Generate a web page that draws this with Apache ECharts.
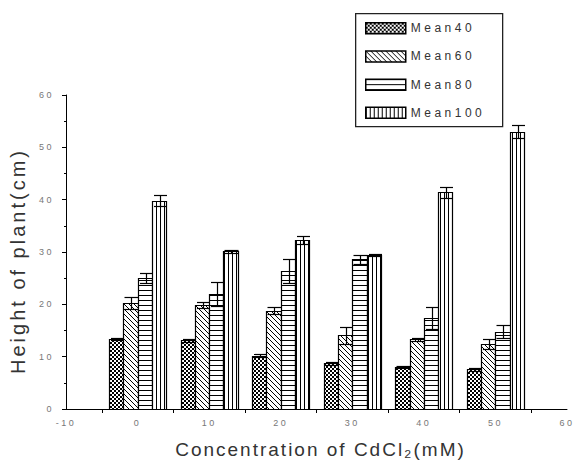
<!DOCTYPE html>
<html><head><meta charset="utf-8">
<script src="https://cdn.jsdelivr.net/npm/echarts@6/dist/echarts.min.js"></script>
<style>
html,body{margin:0;padding:0;background:#fff}
#c{width:575px;height:466px}
#c text[style*="9px"]{letter-spacing:2.5px}
#c text[style*="19px"]{letter-spacing:2px}
#c text[style*="20px"]{letter-spacing:3px}
#c text[style*="12px"]{letter-spacing:3.5px}
</style></head><body><div id="c"></div>
<script>
const concentrations = [0, 10, 20, 30, 40, 50];
const seriesNames = ['Mean40', 'Mean60', 'Mean80', 'Mean100'];
const mean40 = [13.4, 13.1, 10.2, 8.7, 8.0, 7.6];
const mean60 = [20.3, 19.9, 18.8, 14.1, 13.3, 12.4];
const mean80 = [25.0, 22.0, 26.4, 28.6, 17.3, 14.8];
const mean100 = [39.8, 30.1, 32.3, 29.4, 41.4, 53.0];
const err40 = [0.25, 0.25, 0.25, 0.25, 0.25, 0.25];
const err60 = [1.1, 0.6, 0.6, 1.6, 0.25, 1.0];
const err80 = [0.9, 2.3, 2.3, 0.8, 2.1, 1.2];
const err100 = [1.1, 0.25, 0.8, 0.25, 1.0, 1.2];
const xLabelValues = [-10, 0, 10, 20, 30, 40, 50, 60];
const xTickValues = [-5, 5, 15, 25, 35, 45, 55];
const xMin = -10, xMax = 60, yMin = 0, yMax = 60;
// the x scale is run from 0 so the y axis line sits at its left end; labels show the true values
const xShift = -xMin;

function tile(kind) {
  const cv = document.createElement('canvas');
  let w = 4, h = 4;
  if (kind === 'diag') { w = 5; h = 5; }
  if (kind === 'hline') { w = 4; h = 5; }
  cv.width = w; cv.height = h;
  const ctx = cv.getContext('2d');
  ctx.fillStyle = '#fff'; ctx.fillRect(0, 0, w, h);
  ctx.fillStyle = '#000';
  if (kind === 'check') { ctx.fillRect(0, 0, 2, 2); ctx.fillRect(2, 2, 2, 2); }
  if (kind === 'diag') { for (let i = 0; i < 5; i++) ctx.fillRect(i, i, 1, 1); }
  if (kind === 'hline') { ctx.fillRect(0, 0, w, 1); }
  if (kind === 'vline') { ctx.fillRect(0, 0, 1, h); }
  return { image: cv, repeat: 'repeat', imageWidth: w, imageHeight: h };
}
const patterns = [tile('check'), tile('diag'), tile('hline'), tile('vline')];
const values = [mean40, mean60, mean80, mean100];
const errors = [err40, err60, err80, err100];

function makeRender(idx) {
  return function (params, api) {
    const x = api.value(0), y = api.value(1), e = api.value(2);
    const off = (idx - 1.5) * 2;
    const p0 = api.coord([x + off - 1, y]);
    const p1 = api.coord([x + off + 1, 0]);
    const x0 = Math.round(p0[0]) + 0.5, x1 = Math.round(p1[0]) + 0.5;
    const y0 = Math.round(p0[1]) + 0.5, y1 = Math.round(p1[1]) + 0.5;
    const children = [{
      type: 'rect',
      shape: { x: x0, y: y0, width: x1 - x0, height: y1 - y0 },
      style: { fill: patterns[idx], stroke: '#000', lineWidth: 1.2 }
    }];
    if (e > 0) {
      const xc = Math.round((x0 + x1) / 2) + 0.5;
      const pt = api.coord([x + off, y + e]);
      const pb = api.coord([x + off, y - e]);
      const cap = (x1 - x0) / 2 - 0.5;
      const st = { stroke: '#000', lineWidth: 1.2 };
      const ty = Math.round(pt[1]) + 0.5, by = Math.round(pb[1]) + 0.5;
      children.push({ type: 'line', shape: { x1: xc, y1: ty, x2: xc, y2: by }, style: st });
      children.push({ type: 'line', shape: { x1: xc - cap, y1: ty, x2: xc + cap, y2: ty }, style: st });
      children.push({ type: 'line', shape: { x1: xc - cap, y1: by, x2: xc + cap, y2: by }, style: st });
    }
    return { type: 'group', children: children };
  };
}

const series = seriesNames.map((name, i) => ({
  name: name,
  type: 'custom',
  renderItem: makeRender(i),
  itemStyle: { color: patterns[i], borderColor: '#000', borderWidth: 1 },
  encode: { x: 0, y: 1 },
  data: concentrations.map((c, k) => [c + xShift, values[i][k], errors[i][k]]),
  z: 2
}));

const FONT = '"Liberation Sans", Arial, sans-serif';
const chart = echarts.init(document.getElementById('c'), null, { renderer: 'svg' });
chart.setOption({
  animation: false,
  backgroundColor: '#fff',
  grid: { left: 66, right: 7, top: 95, bottom: 57, containLabel: false },
  graphic: [{
    type: 'rect', left: 355, top: 13, z: 0,
    shape: { width: 147, height: 113 },
    style: { fill: '#fff', stroke: '#222', lineWidth: 1.3 }
  }],
  legend: {
    orient: 'vertical', left: 365, top: 22, padding: 0,
    itemWidth: 40, itemHeight: 11, itemGap: 15.7,
    icon: 'rect',
    itemStyle: { borderColor: '#000', borderWidth: 1.5 },
    textStyle: { fontFamily: FONT, fontSize: 12, color: '#333' },
    data: seriesNames
  },
  xAxis: {
    type: 'value', min: xMin + xShift, max: xMax + xShift, interval: 10,
    splitLine: { show: false },
    axisLine: { lineStyle: { color: '#000', width: 1 } },
    axisTick: { show: true, length: 4, customValues: xTickValues.map(v => v + xShift), lineStyle: { color: '#000' } },
    axisLabel: {
      customValues: xLabelValues.map(v => v + xShift),
      formatter: v => String(Math.round(v - xShift)),
      fontFamily: FONT, fontSize: 9, color: '#777', margin: 9
    },
    name: 'Concentration of CdCl\u2082(mM)',
    nameLocation: 'middle', nameGap: 31,
    nameTextStyle: { fontFamily: FONT, fontSize: 19, color: '#333', padding: [0, 0, 0, 8] }
  },
  yAxis: {
    type: 'value', min: yMin, max: yMax, interval: 10,
    splitLine: { show: false },
    axisLine: { show: true, lineStyle: { color: '#000', width: 1 } },
    axisTick: { show: true, length: 4, lineStyle: { color: '#000' } },
    minorTick: { show: true, splitNumber: 2, length: 2, lineStyle: { color: '#000' } },
    axisLabel: { fontFamily: FONT, fontSize: 9, color: '#777', margin: 12 },
    name: 'Height of plant(cm)',
    nameLocation: 'middle', nameGap: 38,
    nameTextStyle: { fontFamily: FONT, fontSize: 20, color: '#333', padding: [0, 18, 0, 0] }
  },
  series: series
});
</script></body></html>
